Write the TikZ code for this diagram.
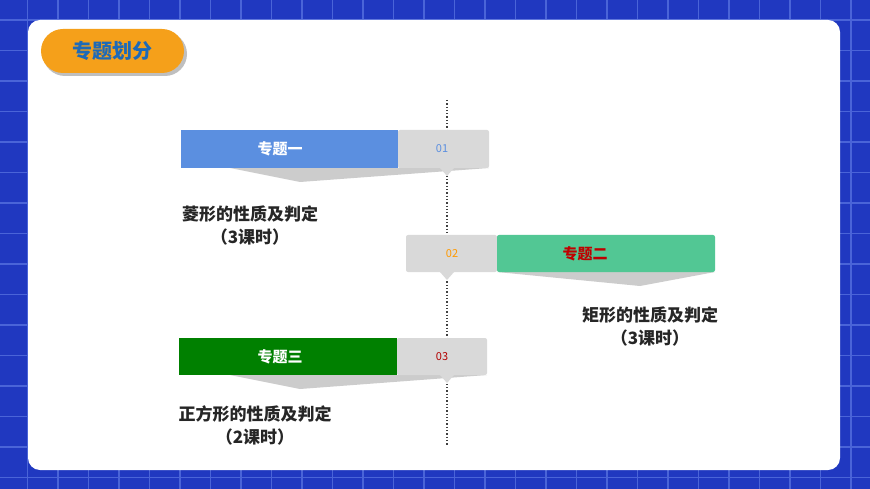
\documentclass[tikz,border=0pt]{standalone}
\usepackage{fontspec}
\setmainfont{Noto Sans CJK SC}
\newfontfamily\cjkb[BoldFont=Noto Sans CJK SC Bold]{Noto Sans CJK SC}
\definecolor{bgblue}{HTML}{2038C0}
\definecolor{gridl}{HTML}{4A64D8}
\definecolor{pill}{HTML}{F5A01A}
\definecolor{pilltxt}{HTML}{1E6AB8}
\definecolor{bar1}{HTML}{5B8FE0}
\definecolor{bar2}{HTML}{52C794}
\definecolor{bar3}{HTML}{008000}
\definecolor{graybar}{HTML}{D9D9D9}
\tikzset{
  gbar/.style={fill=graybar,draw=none},
  tlabel/.style={font=\fontsize{15}{15}\selectfont\bfseries},
  num/.style={font=\fontsize{11}{11}\selectfont},
  body/.style={font=\fontsize{17}{17}\selectfont\bfseries,text=black!85,align=center},
  ptr/.style={fill=graybar,draw=none}
}
\begin{document}
\begin{tikzpicture}[x=1pt,y=-1pt]
\useasboundingbox (0,0) rectangle (870,489);
\fill[bgblue] (0,0) rectangle (870,489);
\foreach \x in {-3,27.5,...,870} \draw[gridl,line width=1.2pt] (\x,0) -- (\x,489);
\foreach \y in {20,50.5,...,489} \draw[gridl,line width=1.2pt] (0,\y) -- (870,\y);
\fill[white,rounded corners=12pt] (28,20) rectangle (840,470);
% pill
\fill[black!25,rounded corners=22pt] (43,32) rectangle (187,76);
\node[fill=pill,rounded corners=22pt,minimum width=143pt,minimum height=44pt,inner sep=0pt,text=pilltxt,font=\fontsize{20}{20}\selectfont\bfseries] (pill) at (112.5,51) {专题划分};
% timeline
\coordinate (ltop) at (447,100);
\coordinate (lbot) at (447,445);
\draw[black!75,line width=1.3pt,dotted] (ltop) -- (lbot);
% bar 1
\fill[black!20] (230,168) -- (489,168) -- (300,182) -- cycle;
\fill[bar1] (181,130) rectangle (398,168);
\fill[gbar,rounded corners=2pt] (398,130) rectangle (489,168);
\fill[ptr] (440,168) -- (454,168) -- (447,176) -- cycle;
\node[tlabel,text=white] (t1) at (280,149) {专题一};
\node[num,text=bar1] (n1) at (442,149) {01};
\node[body] (b1) at (250,225) {菱形的性质及判定\\[6pt]（3课时）};
% bar 2
\fill[black!20] (497,272) -- (715,272) -- (640,286) -- cycle;
\fill[gbar,rounded corners=2pt] (406,235) rectangle (497,272);
\fill[bar2,rounded corners=2pt] (497,235) rectangle (715,272);
\fill[ptr] (440,272) -- (454,272) -- (447,280) -- cycle;
\node[tlabel,text=red!75!black] (t2) at (585,253.5) {专题二};
\node[num,text=orange!80!yellow] (n2) at (452,253.5) {02};
\node[body] (b2) at (650,326) {矩形的性质及判定\\[6pt]（3课时）};
% bar 3
\fill[black!20] (230,375) -- (487,375) -- (300,389) -- cycle;
\fill[bar3] (179,338) rectangle (397,375);
\fill[gbar,rounded corners=2pt] (397,338) rectangle (487,375);
\fill[ptr] (440,375) -- (454,375) -- (447,383) -- cycle;
\node[tlabel,text=white] (t3) at (280,356.5) {专题三};
\node[num,text=red!70!black] (n3) at (442,356.5) {03};
\node[body] (b3) at (255,425) {正方形的性质及判定\\[6pt]（2课时）};
\end{tikzpicture}
\end{document}
